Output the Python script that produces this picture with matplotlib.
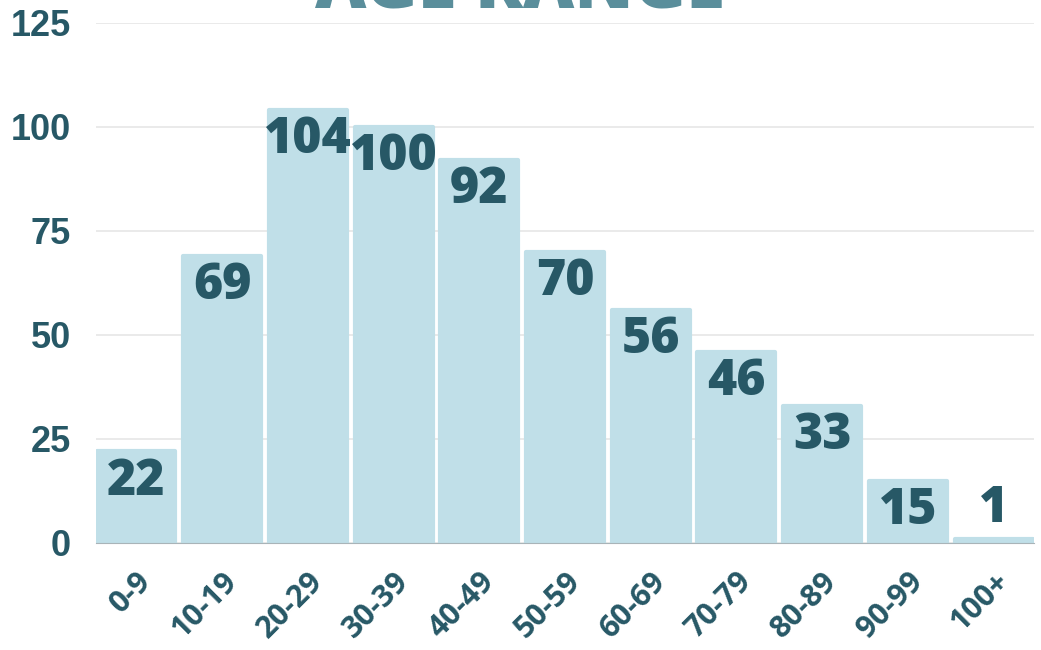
import matplotlib.pyplot as plt

# age distribution
age_groups = ["0-9", "10-19", "20-29", "30-39", "40-49", "50-59",
              "60-69", "70-79", "80-89", "90-99", "100+"]
counts = [22, 69, 104, 100, 92, 70, 56, 46, 33, 15, 1]
y_ticks = [0, 25, 50, 75, 100, 125]

bar_color = "#c0dfe8"
text_color = "#275866"
title_color = "#5a8e9b"

fig = plt.figure(figsize=(10.41, 6.5), dpi=100)
ax = fig.add_axes([96 / 1041, 107 / 650, 938 / 1041, 520 / 650])

xs = range(len(age_groups))
bars = ax.bar(xs, counts, width=0.91, color=bar_color, edgecolor=bar_color,
              linewidth=3, joinstyle="round", zorder=2)

ax.set_xlim(-0.47, len(age_groups) - 0.53)
ax.set_ylim(0, 125)
ax.set_yticks(y_ticks)
ax.set_yticklabels([str(t) for t in y_ticks], fontsize=26, fontweight="bold",
                   family="Liberation Sans", color=text_color)
ax.set_xticks(list(xs))
ax.set_xticklabels(age_groups, rotation=45, ha="right", rotation_mode="anchor",
                   fontsize=22, fontweight="bold", family="Open Sans",
                   color=text_color)
ax.tick_params(axis="both", length=0)
ax.tick_params(axis="y", pad=18)
ax.tick_params(axis="x", pad=17)

ax.grid(axis="y", color="#e6e6e6", linewidth=1.2, zorder=0)
for side in ["top", "right", "left"]:
    ax.spines[side].set_visible(False)
ax.spines["bottom"].set_color("#a9b4b8")
ax.spines["bottom"].set_zorder(3)

# value labels: inside bar near top, above when the bar is too short
for bar, v in zip(bars, counts):
    cx = bar.get_x() + bar.get_width() / 2
    if v >= 10:
        off = -31
    else:
        off = 12
    ax.annotate(str(v), (cx, v), xytext=(0, off), textcoords="offset points",
                ha="center", va="baseline", fontsize=36, fontweight="heavy",
                family="Open Sans", color=text_color, zorder=4)

fig.text(0.5, 1 - 8 / 650, "AGE RANGE", ha="center", va="baseline",
         fontsize=51, fontweight="heavy", family="Open Sans", color=title_color)

fig.savefig("out.png", dpi=100, facecolor="white")
